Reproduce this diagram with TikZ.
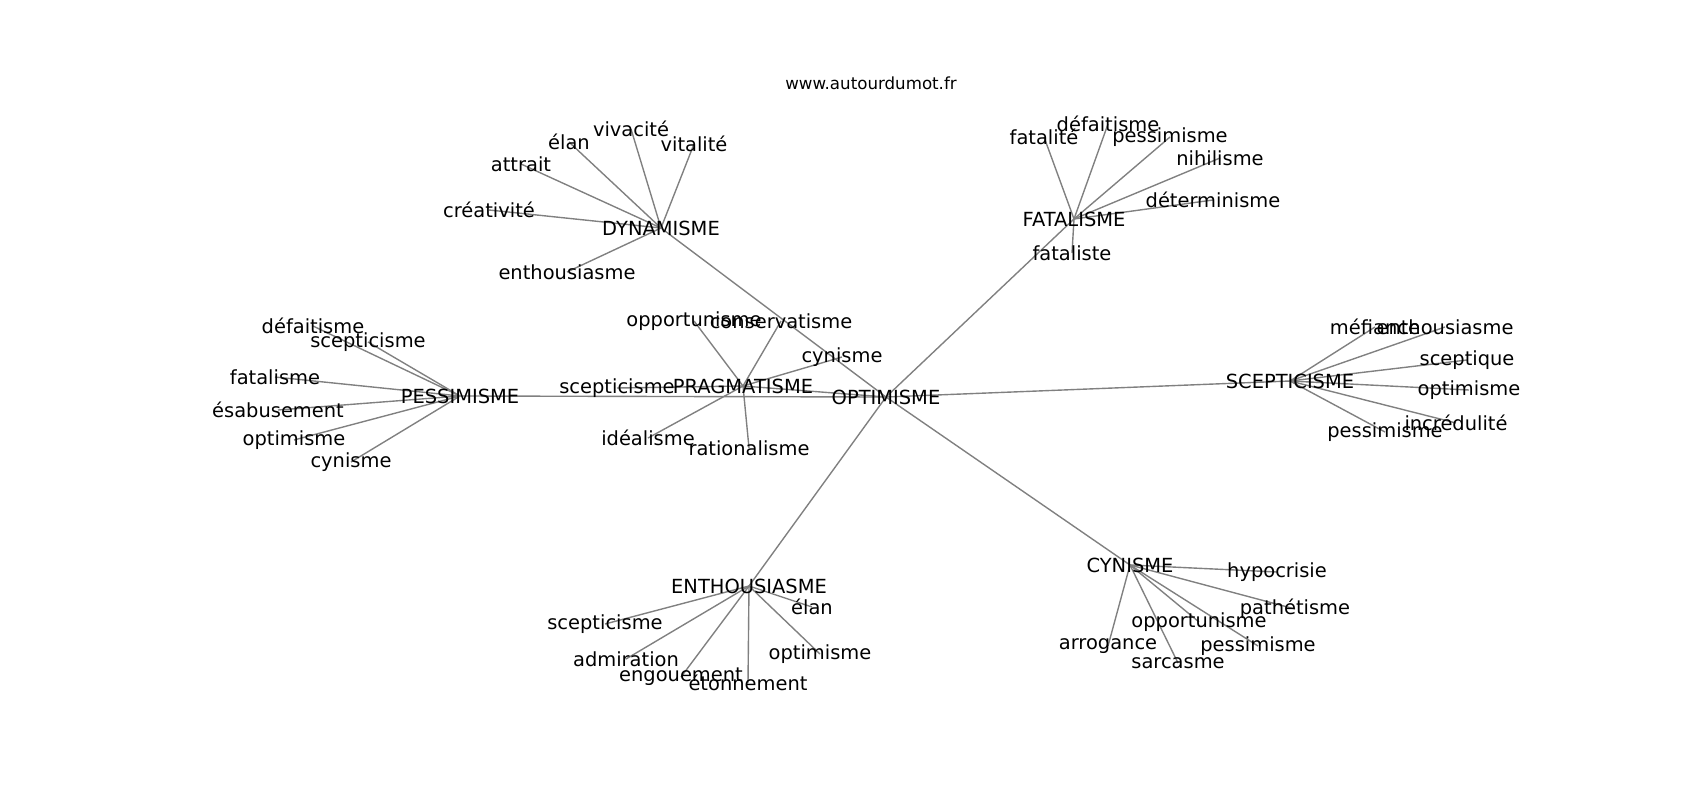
\documentclass[tikz,border=0pt]{standalone}
\usepackage{fontspec}
\setmainfont{DejaVu Sans}
\usetikzlibrary{backgrounds}
\begin{document}
\begin{tikzpicture}[x=0.72pt,y=-0.72pt,
  lbl/.style={inner sep=0pt,font=\fontsize{14}{16}\selectfont,text=black},
  ttl/.style={inner sep=0pt,font=\fontsize{12}{14}\selectfont,text=black},
  edge/.style={draw=gray,line width=1pt}]
\useasboundingbox (0,0) rectangle (1700,800);
\node[ttl] (title) at (871,83) {www.autourdumot.fr};
% hubs
\node[lbl] (opt) at (886,397) {OPTIMISME};
\node[lbl] (dyn) at (661,228) {DYNAMISME};
\node[lbl] (fat) at (1074,219) {FATALISME};
\node[lbl] (pes) at (460,396) {PESSIMISME};
\node[lbl] (pra) at (743,386) {PRAGMATISME};
\node[lbl] (sce) at (1290,381) {SCEPTICISME};
\node[lbl] (ent) at (749,586) {ENTHOUSIASME};
\node[lbl] (cyn) at (1130,565) {CYNISME};
% DYNAMISME leaves
\node[lbl] (d1) at (631,129) {vivacité};
\node[lbl] (d2) at (694,144) {vitalité};
\node[lbl] (d3) at (569,142) {élan};
\node[lbl] (d4) at (521,164) {attrait};
\node[lbl] (d5) at (489,210) {créativité};
\node[lbl] (d6) at (567,272) {enthousiasme};
% FATALISME leaves
\node[lbl] (f1) at (1044,137) {fatalité};
\node[lbl] (f2) at (1108,124) {défaitisme};
\node[lbl] (f3) at (1170,137) {pessimisme};
\node[lbl] (f4) at (1220,158) {nihilisme};
\node[lbl] (f5) at (1213,200) {déterminisme};
\node[lbl] (f6) at (1072,253) {fataliste};
% PESSIMISME leaves
\node[lbl] (p1) at (313,326) {défaitisme};
\node[lbl] (p2) at (368,342) {scepticisme};
\node[lbl] (p3) at (275,377) {fatalisme};
\node[lbl] (p4) at (278,410) {ésabusement};
\node[lbl] (p5) at (294,440) {optimisme};
\node[lbl] (p6) at (351,462) {cynisme};
% PRAGMATISME leaves
\node[lbl] (r1) at (694,321) {opportunisme};
\node[lbl] (r2) at (781,321) {conservatisme};
\node[lbl] (r3) at (842,357) {cynisme};
\node[lbl] (r4) at (617,388) {scepticisme};
\node[lbl] (r5) at (648,438) {idéalisme};
\node[lbl] (r6) at (749,448) {rationalisme};
% SCEPTICISME leaves
\node[lbl] (s1) at (1375,327) {méfiance};
\node[lbl] (s2) at (1445,327) {enthousiasme};
\node[lbl] (s3) at (1467,360) {sceptique};
\node[lbl] (s4) at (1469,390) {optimisme};
\node[lbl] (s5) at (1456,423) {incrédulité};
\node[lbl] (s6) at (1385,432) {pessimisme};
% ENTHOUSIASME leaves
\node[lbl] (e1) at (812,607) {élan};
\node[lbl] (e2) at (605,624) {scepticisme};
\node[lbl] (e3) at (626,659) {admiration};
\node[lbl] (e4) at (681,677) {engouement};
\node[lbl] (e5) at (748,683) {étonnement};
\node[lbl] (e6) at (820,654) {optimisme};
% CYNISME leaves
\node[lbl] (c1) at (1277,572) {hypocrisie};
\node[lbl] (c2) at (1295,609) {pathétisme};
\node[lbl] (c3) at (1199,622) {opportunisme};
\node[lbl] (c4) at (1258,646) {pessimisme};
\node[lbl] (c5) at (1108,646) {arrogance};
\node[lbl] (c6) at (1178,663) {sarcasme};
\begin{pgfonlayer}{background}
\foreach \h in {dyn,fat,pes,pra,sce,ent,cyn}
  \draw[edge] (opt.center) -- (\h.center);
\foreach \i in {1,...,6}{
  \draw[edge] (dyn.center) -- (d\i.center);
  \draw[edge] (fat.center) -- (f\i.center);
  \draw[edge] (pes.center) -- (p\i.center);
  \draw[edge] (pra.center) -- (r\i.center);
  \draw[edge] (sce.center) -- (s\i.center);
  \draw[edge] (ent.center) -- (e\i.center);
  \draw[edge] (cyn.center) -- (c\i.center);
}
\end{pgfonlayer}
\end{tikzpicture}
\end{document}
